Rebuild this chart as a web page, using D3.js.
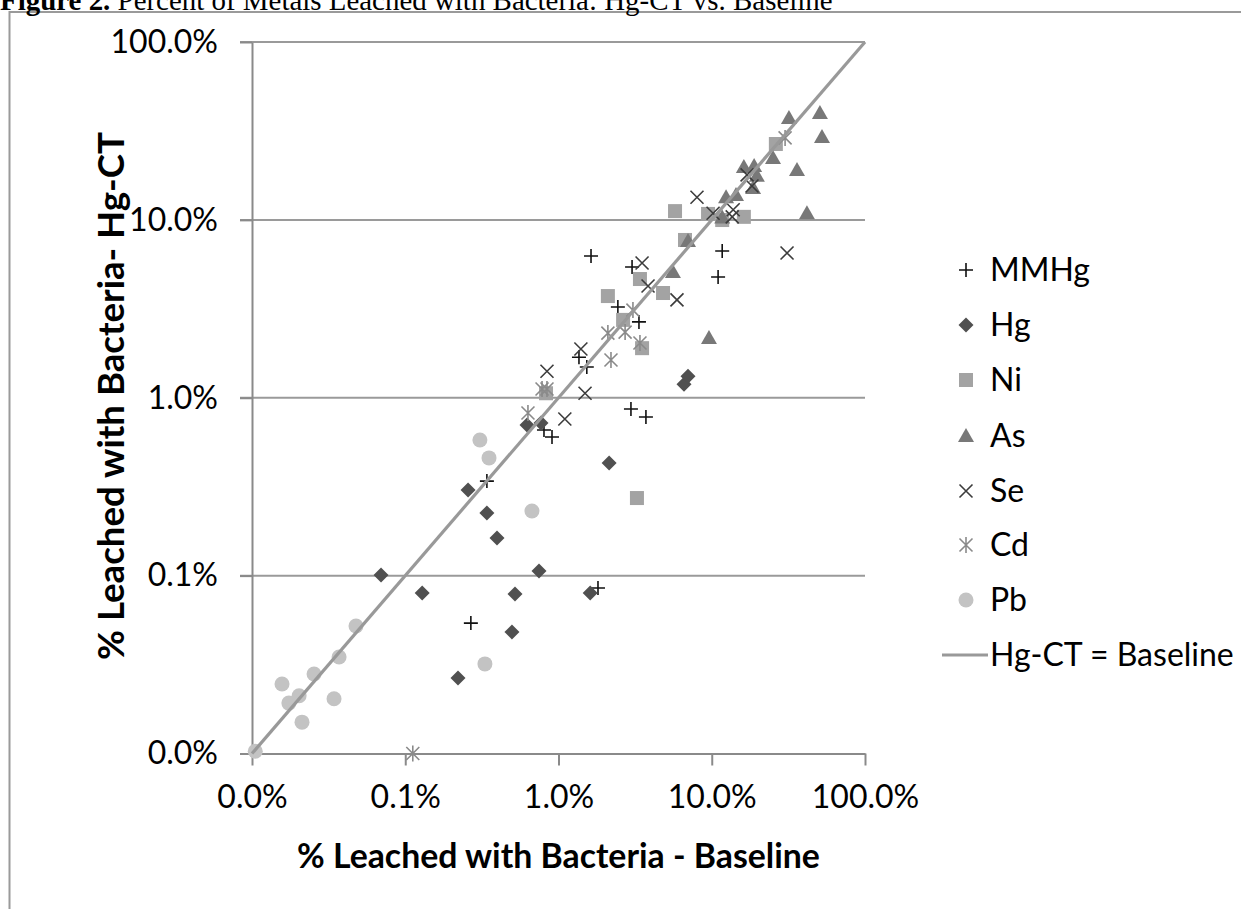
<!DOCTYPE html>
<html><head><meta charset="utf-8">
<script src="https://cdn.jsdelivr.net/npm/d3@7"></script>
<style>html,body{margin:0;padding:0;background:#fff;}svg{display:block;}</style>
</head><body>
<svg id="chart" width="1241" height="909"></svg>
<script>
// ---- data (percent values: [baseline, Hg-CT]) ----
const seriesNames = ["MMHg","Hg","Ni","As","Se","Cd","Pb"];
const tickValues = [0.01, 0.1, 1, 10, 100];
const tickLabels = ["0.0%","0.1%","1.0%","10.0%","100.0%"];
const MMHg = [[1.63,6.27],[3.02,5.43],[11.7,6.68],[11.0,4.77],[2.44,3.24],[3.35,2.67],[1.36,1.69],[1.53,1.49],[2.97,0.865],[3.72,0.78],[0.804,0.659],[0.907,0.602],[0.341,0.340],[1.81,0.0852],[0.268,0.0541]];
const Hg = [[0.0695,0.1008],[0.129,0.0799],[0.221,0.0266],[0.257,0.303],[0.341,0.225],[0.397,0.163],[0.746,0.106],[0.520,0.0788],[1.61,0.0799],[0.497,0.0482],[2.14,0.430],[6.59,1.19],[7.0,1.32],[0.623,0.703],[0.769,0.721]];
const Ni = [[0.829,1.06],[3.25,0.273],[3.51,1.90],[2.64,2.74],[2.10,3.73],[3.40,4.65],[4.81,3.88],[5.76,11.2],[6.69,7.71],[9.46,10.8],[11.7,9.98],[16.2,10.4],[26.2,26.7]];
const As = [[7.0,7.6],[5.58,5.09],[9.59,2.17],[11.7,10.3],[12.4,13.4],[14.4,13.8],[16.2,19.8],[18.9,20.1],[19.7,17.7],[18.6,15.1],[25.1,22.3],[31.9,37.4],[36.0,19.1],[41.8,10.9],[50.8,39.9],[52.4,29.2]];
const Se = [[0.841,1.41],[1.40,1.88],[1.49,1.06],[1.10,0.760],[3.51,5.72],[3.84,4.25],[5.93,3.55],[8.01,13.4],[10.2,10.9],[13.8,11.4],[13.6,10.4],[17.0,17.9],[18.3,15.5],[31.0,6.51]];
const Cd = [[0.112,0.01],[0.632,0.821],[0.781,1.12],[0.841,1.12],[2.10,2.31],[2.72,2.34],[3.40,2.03],[2.20,1.63],[3.06,3.11],[30.1,28.9]];
const Pb = [[0.0105,0.0103],[0.0157,0.0246],[0.0174,0.0192],[0.0203,0.0211],[0.0212,0.0150],[0.0254,0.0280],[0.0343,0.0203],[0.0370,0.0349],[0.0477,0.0521],[0.307,0.579],[0.352,0.459],[0.671,0.231],[0.331,0.0319]];
const lineName = "Hg-CT = Baseline";
const lineData = [[0.01,0.01],[100,100]];

const seriesData = {MMHg, Hg, Ni, As, Se, Cd, Pb};
const styles = {
  MMHg:{type:"plus", color:"#111111"},
  Hg:{type:"diamond", color:"#505050"},
  Ni:{type:"square", color:"#a3a3a3"},
  As:{type:"triangle", color:"#787878"},
  Se:{type:"cross", color:"#3c3c3c"},
  Cd:{type:"star", color:"#8a8a8a"},
  Pb:{type:"circle", color:"#c3c3c3"}
};

const svg = d3.select("#chart");
const FONT = "Lato, 'Open Sans', sans-serif";
const L = 252, R = 865, T = 42, B = 753.5;
const x = d3.scaleLog().domain([0.01,100]).range([L,R]);
const y = d3.scaleLog().domain([0.01,100]).range([B,T]);

function fitText(sel, target){
  const w = sel.node().getComputedTextLength();
  const fs = parseFloat(sel.attr("font-size"));
  sel.attr("font-size", fs*target/w);
}

// outer border
svg.append("path").attr("d","M9.5,909 L9.5,12 L1241,12").attr("fill","none").attr("stroke","#9a9a9a").attr("stroke-width",2);

// title (cut off at top)
const title = svg.append("text").attr("x",0).attr("y",10).attr("font-family","'Liberation Serif', 'Times New Roman', serif").attr("font-size",22).attr("fill","#000");
title.append("tspan").attr("font-weight","bold").text("Figure 2.");
title.append("tspan").text(" Percent of Metals Leached with Bacteria: Hg-CT vs. Baseline");
fitText(title, 833);

// gridlines
svg.append("g").selectAll("line").data(tickValues.slice(1)).join("line")
  .attr("x1",L-12).attr("x2",R).attr("y1",d=>y(d)).attr("y2",d=>y(d))
  .attr("stroke","#9a9a9a").attr("stroke-width",2);

// axes
const xAxis = svg.append("g").attr("transform",`translate(0,${B})`)
  .call(d3.axisBottom(x).tickValues(tickValues).tickFormat((d,i)=>tickLabels[i]).tickSizeOuter(0).tickSizeInner(12).tickPadding(20));
const yAxis = svg.append("g").attr("transform",`translate(${L},0)`)
  .call(d3.axisLeft(y).tickValues(tickValues).tickFormat((d,i)=>tickLabels[i]).tickSizeOuter(0).tickSizeInner(12).tickPadding(22));
[xAxis,yAxis].forEach(g=>{
  g.select(".domain").attr("stroke","#8a8a8a").attr("stroke-width",2);
  g.selectAll(".tick line").attr("stroke","#8a8a8a").attr("stroke-width",2);
  g.selectAll(".tick text").attr("font-family",FONT).attr("font-size",32).attr("fill","#000");
});

// marker drawing
function drawMarker(g, type, color, cx, cy){
  const s = 7;
  if(type==="plus"){
    g.append("path").attr("d",`M${cx-s},${cy}H${cx+s}M${cx},${cy-s}V${cy+s}`).attr("stroke",color).attr("stroke-width",1.6).attr("fill","none");
  } else if(type==="cross"){
    const c=6.5;
    g.append("path").attr("d",`M${cx-c},${cy-c}L${cx+c},${cy+c}M${cx-c},${cy+c}L${cx+c},${cy-c}`).attr("stroke",color).attr("stroke-width",1.6).attr("fill","none");
  } else if(type==="star"){
    const c=6.5;
    g.append("path").attr("d",`M${cx-c},${cy-c}L${cx+c},${cy+c}M${cx-c},${cy+c}L${cx+c},${cy-c}M${cx},${cy-8}V${cy+8}`).attr("stroke",color).attr("stroke-width",1.6).attr("fill","none");
  } else if(type==="diamond"){
    const d=7.5;
    g.append("path").attr("d",`M${cx},${cy-d}L${cx+d},${cy}L${cx},${cy+d}L${cx-d},${cy}Z`).attr("fill",color);
  } else if(type==="square"){
    g.append("rect").attr("x",cx-7).attr("y",cy-7).attr("width",14).attr("height",14).attr("fill",color);
  } else if(type==="triangle"){
    g.append("path").attr("d",`M${cx},${cy-8}L${cx+8},${cy+6}L${cx-8},${cy+6}Z`).attr("fill",color);
  } else if(type==="circle"){
    g.append("circle").attr("cx",cx).attr("cy",cy).attr("r",7.5).attr("fill",color);
  }
}

const marks = svg.append("g");
seriesNames.forEach(name=>{
  const st = styles[name];
  const g = marks.append("g").attr("class","series-"+name);
  seriesData[name].forEach(p=>drawMarker(g, st.type, st.color, x(p[0]), y(p[1])));
});

// y = x line
svg.append("path").datum(lineData)
  .attr("d", d3.line().x(d=>x(d[0])).y(d=>y(d[1])))
  .attr("stroke","#999999").attr("stroke-width",3.2).attr("fill","none");

// axis titles
const xt = svg.append("text").attr("x",(297+820)/2).attr("y",868).attr("text-anchor","middle")
  .attr("font-family",FONT).attr("font-weight","bold").attr("font-size",28).text("% Leached with Bacteria - Baseline");
fitText(xt, 523);
const yt = svg.append("text").attr("transform",`translate(124,${(130+662)/2}) rotate(-90)`).attr("text-anchor","middle")
  .attr("font-family",FONT).attr("font-weight","bold").attr("font-size",28).text("% Leached with Bacteria- Hg-CT");
fitText(yt, 528);

// legend
const legend = svg.append("g");
const rowY = [270,325,380,436,491,545,600];
seriesNames.forEach((name,i)=>{
  const st = styles[name];
  drawMarker(legend, st.type, st.color, 966, rowY[i]);
  legend.append("text").attr("x",990).attr("y",rowY[i]+11).attr("font-family",FONT).attr("font-size",32).attr("fill","#000").text(name);
});
legend.append("line").attr("x1",942).attr("x2",988).attr("y1",655).attr("y2",655).attr("stroke","#999999").attr("stroke-width",3.2);
legend.append("text").attr("x",990).attr("y",666).attr("font-family",FONT).attr("font-size",32).attr("fill","#000").text(lineName);
</script>
</body></html>
